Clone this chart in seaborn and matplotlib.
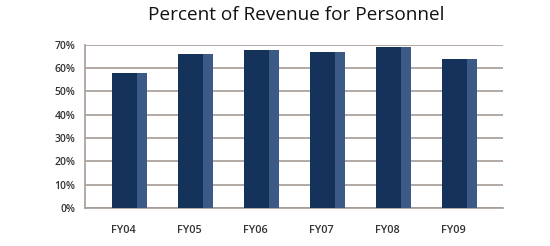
import numpy as np
import pandas as pd
import matplotlib
matplotlib.use("Agg")
import matplotlib.pyplot as plt
import seaborn as sns

# ==========================
# Data
# ==========================

years = ["FY04", "FY05", "FY06", "FY07", "FY08", "FY09"]
pct_personnel = [58, 66, 68, 67, 69, 64]
y_ticks = [0, 10, 20, 30, 40, 50, 60, 70]

df = pd.DataFrame({"Year": years, "Percent": pct_personnel})

# ==========================
# Style
# ==========================

sns.set_style("white")
plt.rcParams["font.family"] = ["Open Sans", "DejaVu Sans"]

front_color = "#14325a"
side_color = "#3b5b86"
grid_color = "#a59b96"

fig = plt.figure(figsize=(5.5, 2.46), dpi=100)
ax = fig.add_axes([0.1545, 0.1545, 0.76, 0.663])

# side face (lighter), then front face (dark) on top
sns.barplot(data=df, x="Year", y="Percent", color=side_color,
            width=0.53, saturation=1, ax=ax, zorder=3)
n_side = len(ax.patches)
sns.barplot(data=df, x="Year", y="Percent", color=front_color,
            width=0.38, saturation=1, ax=ax, zorder=4)

side_patches = ax.patches[:n_side]
front_patches = ax.patches[n_side:]
for side, front in zip(side_patches, front_patches):
    side.set_x(side.get_x() + 0.175)
    front.set_x(side.get_x())
    side.set_linewidth(0)
    front.set_linewidth(0)

# ==========================
# Axes
# ==========================

ax.set_ylim(0, 70)
ax.set_xlim(-0.5, 5.83)
ax.set_yticks(y_ticks)
ax.set_yticklabels([f"{v}%" for v in y_ticks])

ax.yaxis.grid(True, color=grid_color, linewidth=1.2, zorder=0)
ax.set_axisbelow(True)

ax.set_xticks(np.arange(len(years)) + 0.08)
ax.set_xticklabels(years)
ax.set_xticks(np.arange(-0.5, len(years), 1), minor=True)
ax.tick_params(axis="x", which="major", length=0, pad=12,
               labelsize=7.8, labelcolor="#333333")
ax.tick_params(axis="x", which="minor", length=4, width=1.2,
               color=grid_color, direction="out")
ax.tick_params(axis="y", length=5, width=1.2, color=grid_color,
               direction="out", labelsize=7.5, labelcolor="#333333", pad=2)
for lab in ax.get_xticklabels() + ax.get_yticklabels():
    lab.set_fontweight("semibold")

for side in ["top", "right"]:
    ax.spines[side].set_visible(False)
for side in ["left", "bottom"]:
    ax.spines[side].set_color(grid_color)
    ax.spines[side].set_linewidth(1.2)

ax.set_xlabel("")
ax.set_ylabel("")

fig.text(0.538, 0.937, "Percent of Revenue for Personnel",
         ha="center", va="center", fontsize=13.7, fontweight="normal",
         color="#111111")

plt.savefig("out.png", dpi=100)
